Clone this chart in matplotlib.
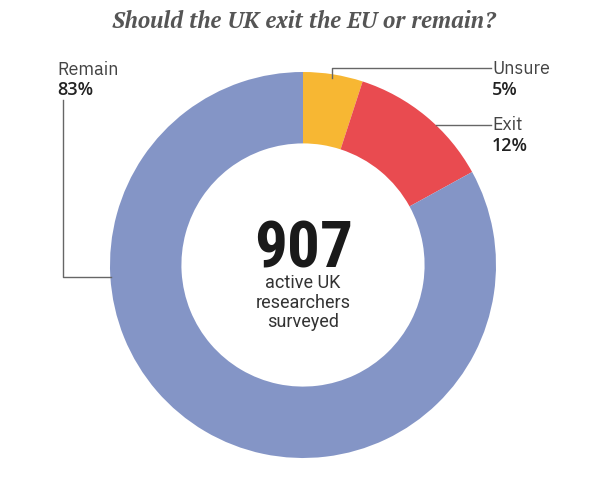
import matplotlib.pyplot as plt

labels = ["Unsure", "Exit", "Remain"]
shares = [5, 12, 83]
colors = ["#F7B733", "#E94B50", "#8495C6"]
respondents = 907
caption = ["active UK", "researchers", "surveyed"]

W, H = 600, 482
CX, CY, R = 303, 265, 193

LABEL_FONT = ["IBM Plex Sans", "Roboto", "DejaVu Sans"]
PCT_FONT = ["Open Sans", "DejaVu Sans"]
CENTER_FONT = ["Roboto", "DejaVu Sans"]
BIG_FONT = ["Roboto Condensed", "Liberation Sans Narrow", "DejaVu Sans"]
TITLE_FONT = ["PT Serif", "Liberation Serif", "DejaVu Serif"]


def py(y):
    # image pixel row -> axes y
    return H - y


fig = plt.figure(figsize=(6.0, 4.82), dpi=100)
ax = fig.add_axes([0, 0, 1, 1])

ax.pie(shares, colors=colors, startangle=90, counterclock=False,
       center=(CX, py(CY)), radius=R,
       wedgeprops=dict(width=R * 0.37, linewidth=0))
ax.set_xlim(0, W)
ax.set_ylim(0, H)
ax.set_aspect("equal")
ax.axis("off")

line_kw = dict(color="#666666", linewidth=1.0)
label_kw = dict(fontsize=13, color="#444444", family=LABEL_FONT, va="baseline", ha="left")
pct_kw = dict(fontsize=13, color="#222222", family=PCT_FONT, fontweight="semibold",
              va="baseline", ha="left")

# Unsure
ax.plot([332, 332, 491], [py(78), py(68), py(68)], **line_kw)
ax.text(492, py(74), labels[0], **label_kw)
ax.text(492, py(95), f"{shares[0]}%", **pct_kw)
# Exit
ax.plot([436, 491], [py(125), py(125)], **line_kw)
ax.text(492, py(130), labels[1], **label_kw)
ax.text(492, py(151), f"{shares[1]}%", **pct_kw)
# Remain
ax.plot([63, 63, 111], [py(100), py(277), py(277)], **line_kw)
ax.text(57, py(75), labels[2], **label_kw)
ax.text(57, py(95), f"{shares[2]}%", **pct_kw)

ax.text(CX + 1, py(267), str(respondents), ha="center", va="baseline",
        fontsize=47, fontweight="bold", color="#1a1a1a", family=BIG_FONT)
for line, base in zip(caption, [288, 308, 327]):
    ax.text(CX, py(base), line, ha="center", va="baseline",
            fontsize=13, color="#333333", family=CENTER_FONT)

fig.text(304 / W, 1 - 22 / H, "Should the UK exit the EU or remain?",
         ha="center", va="center", fontsize=16.3, fontweight="bold",
         fontstyle="italic", color="#555555", family=TITLE_FONT)

fig.savefig("out.png", dpi=100, facecolor="white")
